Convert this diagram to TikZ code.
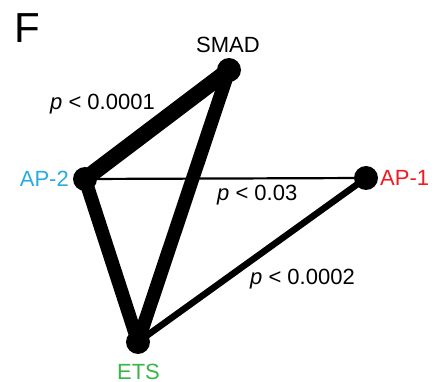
\documentclass[tikz,border=0pt]{standalone}
\usepackage{fontspec}
\setmainfont{Liberation Sans}
\definecolor{aptwocol}{RGB}{41,171,226}
\definecolor{aponecol}{RGB}{237,28,36}
\definecolor{etscol}{RGB}{57,181,74}
\begin{document}
\begin{tikzpicture}[x=1pt,y=-1pt,
    hub/.style={circle,fill=black,inner sep=0pt,minimum size=24pt},
    lbl/.style={inner sep=0pt,font=\fontsize{22}{24}\selectfont},
    link/.style={line width=#1}]
        \useasboundingbox (0,0) rectangle (437,382);
        \node[lbl,font=\fontsize{42}{46}\selectfont,anchor=base west] (f) at (14,43) {F};
        \coordinate (smad) at (229,70);
        \coordinate (aptwo) at (85,179);
        \coordinate (apone) at (366,178);
        \coordinate (ets) at (138,342);
        \draw[link=2.2pt] (aptwo) -- (apone);
        \draw[link=6.5pt] (apone) -- (ets);
        \draw[link=13.5pt] (smad) -- (ets);
        \draw[link=13.5pt] (aptwo) -- (ets);
        \draw[link=16pt] (smad) -- (aptwo);
        \node[hub] (v1) at (smad) {};
        \node[hub] (v2) at (aptwo) {};
        \node[hub] (v3) at (apone) {};
        \node[hub] (v4) at (ets) {};
        \node[lbl] (smadlbl) at (228,44.5) {SMAD};
        \node[lbl,text=aptwocol,anchor=east] (aptwolbl) at (69,179) {AP-2};
        \node[lbl,text=aponecol,anchor=west] (aponelbl) at (380,178) {AP-1};
        \node[lbl,text=etscol] (etslbl) at (138.5,371.5) {ETS};
        \node[lbl,anchor=base west] (pa) at (50,110) {\textit{p} < 0.0001};
        \node[lbl,anchor=base west] (pb) at (217,201) {\textit{p} < 0.03};
        \node[lbl,anchor=base west] (pc) at (250,285) {\textit{p} < 0.0002};
\end{tikzpicture}
\end{document}
